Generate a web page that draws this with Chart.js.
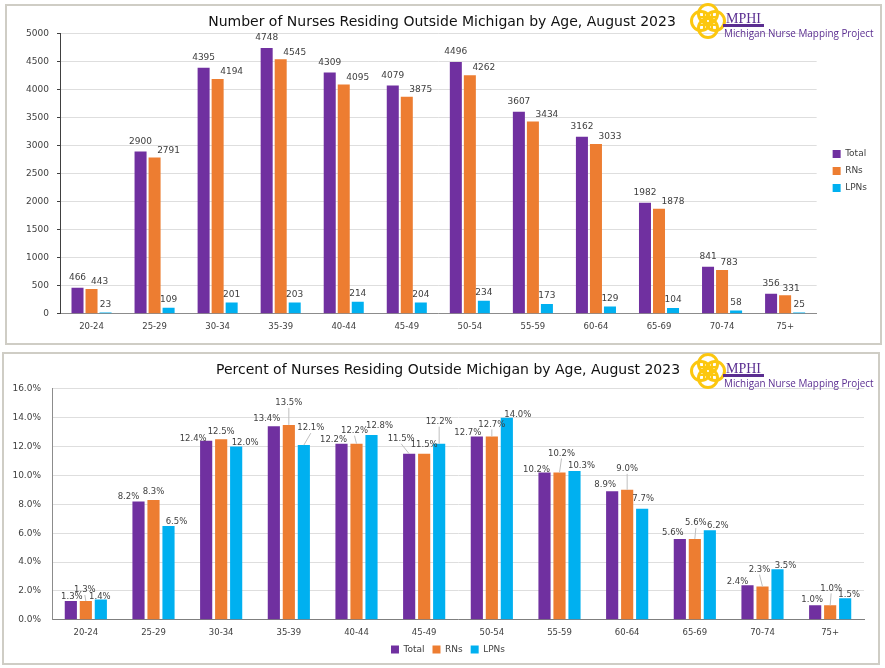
<!DOCTYPE html>
<html>
<head>
<meta charset="utf-8">
<script src="https://cdn.jsdelivr.net/npm/chart.js@4"></script>
<style>
  html, body { margin: 0; padding: 0; background: #fff; }
  body { position: relative; width: 885px; height: 668px; overflow: hidden; }
  .panel { position: absolute; border: 2px solid #cfcdc5; box-sizing: border-box; }
  canvas { position: absolute; left: 0; }
  .logo { position: absolute; left: 688px; width: 195px; height: 42px; color: #5b2e91; }
  .logo svg { position: absolute; left: 2px; top: 2px; }
  .logo .mphi { position: absolute; left: 38px; top: 10px; font: 14px "Liberation Serif", serif; }
  .logo .bar { position: absolute; left: 35px; top: 23px; width: 41px; height: 3px; background: #5b2e91; }
  .logo .name { position: absolute; left: 36px; top: 25px; font: 9.9px "Open Sans", sans-serif; white-space: nowrap; }
</style>
</head>
<body>
<div class="panel" style="left:5px;top:4px;width:877px;height:341px"></div>
<div class="panel" style="left:2px;top:352px;width:878px;height:313px"></div>
<canvas id="countChart" width="885" height="344" style="top:0"></canvas>
<canvas id="percentChart" width="885" height="321" style="top:352px"></canvas>

<div class="logo" style="top:1px">
  <svg width="36" height="36" viewBox="0 0 36 36" fill="none" stroke="#fcc70f" stroke-width="3">
    <circle cx="11" cy="18" r="9.5"/><circle cx="25" cy="18" r="9.5"/>
    <circle cx="18" cy="11" r="9.5"/><circle cx="18" cy="25" r="9.5"/>
    <path d="M10 14h16M10 22h16M14 10v16M22 10v16" stroke-width="2"/>
  </svg>
  <span class="mphi">MPHI</span><span class="bar"></span><span class="name">Michigan Nurse Mapping Project</span>
</div>
<div class="logo" style="top:351px">
  <svg width="36" height="36" viewBox="0 0 36 36" fill="none" stroke="#fcc70f" stroke-width="3">
    <circle cx="11" cy="18" r="9.5"/><circle cx="25" cy="18" r="9.5"/>
    <circle cx="18" cy="11" r="9.5"/><circle cx="18" cy="25" r="9.5"/>
    <path d="M10 14h16M10 22h16M14 10v16M22 10v16" stroke-width="2"/>
  </svg>
  <span class="mphi">MPHI</span><span class="bar"></span><span class="name">Michigan Nurse Mapping Project</span>
</div>

<script>
const ageGroups = ['20-24', '25-29', '30-34', '35-39', '40-44', '45-49', '50-54', '55-59', '60-64', '65-69', '70-74', '75+'];

const countTotal = [466, 2900, 4395, 4748, 4309, 4079, 4496, 3607, 3162, 1982, 841, 356];
const countRNs = [443, 2791, 4194, 4545, 4095, 3875, 4262, 3434, 3033, 1878, 783, 331];
const countLPNs = [23, 109, 201, 203, 214, 204, 234, 173, 129, 104, 58, 25];

const percentTotal = [1.3, 8.2, 12.4, 13.4, 12.2, 11.5, 12.7, 10.2, 8.9, 5.6, 2.4, 1.0];
const percentRNs = [1.3, 8.3, 12.5, 13.5, 12.2, 11.5, 12.7, 10.2, 9.0, 5.6, 2.3, 1.0];
const percentLPNs = [1.4, 6.5, 12.0, 12.1, 12.8, 12.2, 14.0, 10.3, 7.7, 6.2, 3.5, 1.5];

const PURPLE = '#7030a0';
const ORANGE = '#ed7d31';
const BLUE = '#00b0f0';
const FONT = '"DejaVu Sans", sans-serif';
const TEXT = '#404040';

// label nudges from the top of each bar, hand placed like the original
const countOffsets = [
  {dx: [0, 0, 0, 0, 0, 0, 0, 0, 0, 0, 0, 0], dy: -10},
  {dx: [8, 14, 14, 14, 14, 14, 14, 14, 14, 14, 7, 6], dy: -7},
  {dx: [0, 0, 0, 0, 0, 0, 0, 0, 0, 0, 0, 0], dy: -8},
];
const percentOffsets = [
  {dx: [1, -10, -13, -7, -8, -8, -9, -8, -7, -7, -10, -3], dy: [-4, -5, -2, -8, -4, -15, -4, -3, -7, -6, -3, -6]},
  {dx: [-1, 0, 0, 0, -2, 0, 0, 2, 0, 1, -3, 1], dy: [-11, -8, -8, -22, -13, -9, -12, -19, -21, -16, -17, -17]},
  {dx: [-1, 8, 9, 7, 8, 0, 11, 7, 1, 8, 8, 4], dy: [-3, -4, -4, -17, -9, -22, -3, -5, -10, -4, -3, -3]},
];

// draws the value labels, with a thin leader line when a label sits far off its bar
const barLabels = {
  id: 'barLabels',
  afterDatasetsDraw(chart, args, opts) {
    const ctx = chart.ctx;
    ctx.save();
    ctx.font = opts.size + 'px ' + FONT;
    ctx.textAlign = 'center';
    ctx.textBaseline = 'middle';
    chart.data.datasets.forEach((dataset, d) => {
      chart.getDatasetMeta(d).data.forEach((bar, i) => {
        const off = opts.offsets[d];
        const dx = Array.isArray(off.dx) ? off.dx[i] : off.dx;
        const dy = Array.isArray(off.dy) ? off.dy[i] : off.dy;
        if (opts.leaders && dy <= -11) {
          ctx.strokeStyle = '#bfbfbf';
          ctx.lineWidth = 1;
          ctx.beginPath();
          ctx.moveTo(bar.x + dx, bar.y + dy + 5);
          ctx.lineTo(bar.x, bar.y);
          ctx.stroke();
        }
        ctx.fillStyle = TEXT;
        ctx.fillText(opts.format(dataset.data[i]), bar.x + dx, bar.y + dy);
      });
    });
    ctx.restore();
  },
};

// title and legend sit off the canvas centre in the original
const nudge = {
  id: 'nudge',
  afterLayout(chart, args, opts) {
    chart.titleBlock.left += opts.title;
    chart.titleBlock.right += opts.title;
    chart.legend.left += opts.legendX;
    chart.legend.right += opts.legendX;
    chart.legend.top += opts.legendY;
    chart.legend.bottom += opts.legendY;
  },
};

function makeChart(id, cfg) {
  return new Chart(document.getElementById(id), {
    type: 'bar',
    data: {
      labels: ageGroups,
      datasets: [
        {label: 'Total', data: cfg.series[0], backgroundColor: PURPLE},
        {label: 'RNs', data: cfg.series[1], backgroundColor: ORANGE},
        {label: 'LPNs', data: cfg.series[2], backgroundColor: BLUE},
      ],
    },
    plugins: [barLabels, nudge],
    options: {
      responsive: false,
      animation: false,
      devicePixelRatio: 1,
      categoryPercentage: cfg.categoryPercentage,
      barPercentage: cfg.barPercentage,
      layout: {padding: cfg.padding},
      scales: {
        x: {
          grid: {display: false, drawTicks: false},
          border: {color: cfg.xLine},
          ticks: {color: TEXT, font: {family: FONT, size: 8.5}, padding: cfg.xPad, maxRotation: 0},
        },
        y: {
          min: 0,
          max: cfg.max,
          afterFit(axis) { axis.width = cfg.yWidth; },
          ticks: {stepSize: cfg.step, color: TEXT, font: {family: FONT, size: 9}, padding: cfg.yPad, callback: cfg.tick},
          grid: {color: '#dedede', drawTicks: cfg.yTicks, tickLength: 3, tickColor: cfg.yLine},
          border: {color: cfg.yLine, width: cfg.yLineWidth},
        },
      },
      plugins: {
        title: {
          display: true,
          text: cfg.title,
          color: '#111',
          font: {family: FONT, size: 14, weight: 'normal'},
          padding: cfg.titlePad,
        },
        legend: {
          position: cfg.legendPos,
          labels: {
            color: TEXT,
            font: {family: FONT, size: 9},
            boxWidth: 8,
            boxHeight: 8,
            padding: cfg.legendGap,
          },
        },
        tooltip: {enabled: false},
        barLabels: {offsets: cfg.offsets, size: cfg.labelSize, format: cfg.format, leaders: cfg.leaders},
        nudge: cfg.nudge,
      },
    },
  });
}

makeChart('countChart', {
  series: [countTotal, countRNs, countLPNs],
  title: 'Number of Nurses Residing Outside Michigan by Age, August 2023',
  max: 5000,
  step: 500,
  tick: v => String(v),
  format: v => String(v),
  offsets: countOffsets,
  labelSize: 9,
  leaders: false,
  categoryPercentage: 0.667,
  barPercentage: 0.857,
  padding: {left: 15, right: 16, top: 0, bottom: 4},
  yWidth: 45,
  yPad: 8,
  yTicks: true,
  yLine: '#404040',
  yLineWidth: 1,
  xLine: '#8c8c8c',
  xPad: 8,
  titlePad: {top: 14, bottom: 3},
  legendPos: 'right',
  legendGap: 8,
  nudge: {title: 0, legendX: 8, legendY: 1},
});

makeChart('percentChart', {
  series: [percentTotal, percentRNs, percentLPNs],
  title: 'Percent of Nurses Residing Outside Michigan by Age, August 2023',
  max: 16,
  step: 2,
  tick: v => v.toFixed(1) + '%',
  format: v => v.toFixed(1) + '%',
  offsets: percentOffsets,
  labelSize: 8.5,
  leaders: true,
  categoryPercentage: 0.665,
  barPercentage: 0.81,
  padding: {left: 12, right: 21, top: 0, bottom: 0},
  yWidth: 40,
  yPad: 11,
  yTicks: false,
  yLine: '#8c8c8c',
  yLineWidth: 1,
  xLine: '#7f7f7f',
  xPad: 8,
  titlePad: {top: 10, bottom: 10},
  legendPos: 'bottom',
  legendGap: 8,
  nudge: {title: 10, legendX: 10, legendY: -9},
});
</script>
</body>
</html>
